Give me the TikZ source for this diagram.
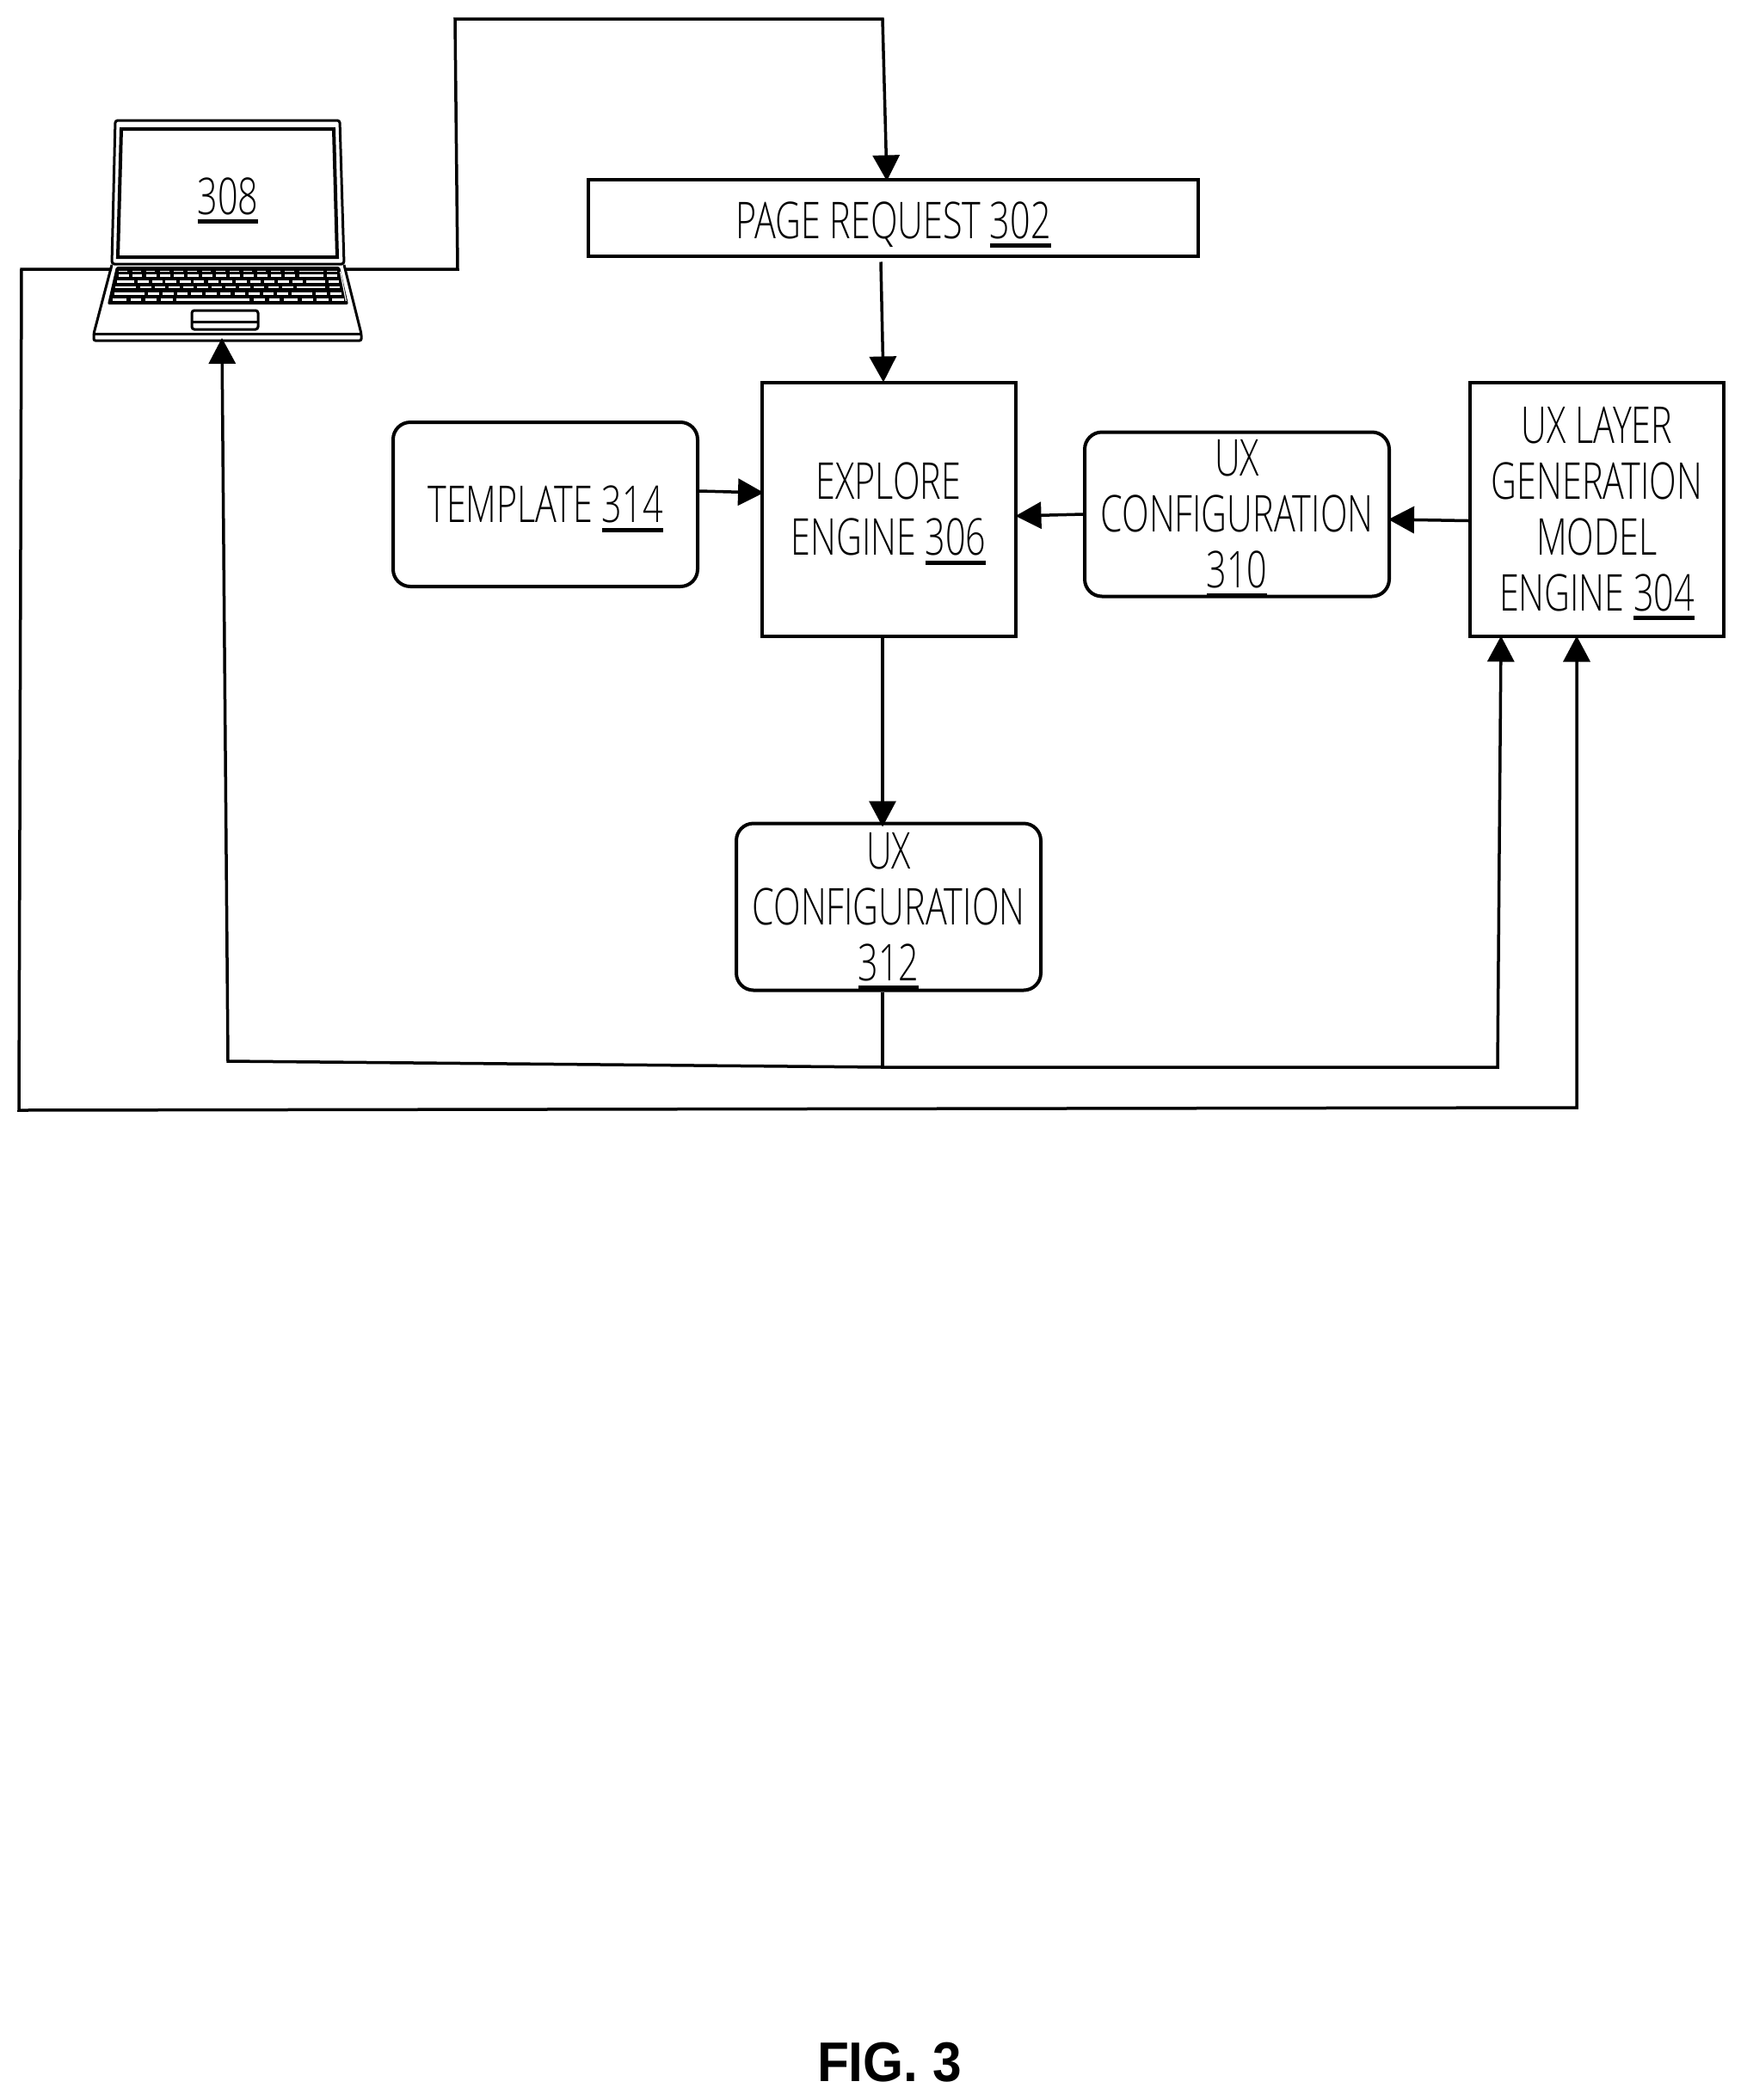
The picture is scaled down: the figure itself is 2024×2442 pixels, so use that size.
\documentclass[tikz,border=0pt]{standalone}
\usepackage{fontspec}
\setmainfont[FakeStretch=0.70]{Open Sans Light}
\newfontfamily\figfont[FakeStretch=0.93]{Liberation Sans}
\usetikzlibrary{arrows.meta}

\newcommand{\partnum}[1]{\setbox0\hbox{#1}\rlap{\smash{\rule[-11pt]{\wd0}{5pt}}}\box0}

\tikzset{
  flatbox/.style={draw, line width=4pt, align=center, inner sep=0pt, font=\fontsize{59}{65}\selectfont},
  roundbox/.style={flatbox, rounded corners=20pt},
  link/.style={draw, line width=3.5pt, -{Triangle[length=30pt,width=31pt]}},
  wire/.style={draw, line width=3.5pt},
}

\begin{document}
\begin{tikzpicture}[x=1pt, y=-1pt]
  \useasboundingbox (0,0) rectangle (2024,2442);

  % Engine and configuration nodes
  \node[flatbox, minimum width=295pt, minimum height=295pt] at (1033,592) (explore) {EXPLORE\\ENGINE \partnum{306}};
  \node[flatbox, minimum width=709pt, minimum height=89pt, text height=48pt, text depth=0pt, above of=explore, node distance=339pt, xshift=5.5pt] (page) {PAGE REQUEST \partnum{302}};
  \node[roundbox, minimum width=354pt, minimum height=191pt, left of=explore, node distance=399pt, yshift=5.5pt] (template) {TEMPLATE \partnum{314}};
  \node[roundbox, minimum width=354pt, minimum height=191pt, right of=explore, node distance=405pt, yshift=-6pt] (uxa) {UX\\CONFIGURATION\\\partnum{310}};
  \node[flatbox, minimum width=295pt, minimum height=295pt, right of=uxa, node distance=418.5pt, yshift=6pt] (layer) {UX LAYER\\GENERATION\\MODEL\\ENGINE \partnum{304}};
  \node[roundbox, minimum width=354pt, minimum height=194pt, below of=explore, node distance=462.5pt] (uxb) {UX\\CONFIGURATION\\\partnum{312}};
  % Figure caption
  \node[font=\figfont\bfseries\fontsize{65}{65}\selectfont] at (1034,2398) (caption) {FIG. 3};

  % Laptop lid and screen
  \path[draw, line width=3pt, rounded corners=3pt] (130,307) -- (134,140) -- (395,140) -- (400,307) -- cycle;
  \path[draw, line width=4pt] (141,150) -- (388,150) -- (392,299) -- (137,299) -- cycle;
  \node[font=\fontsize{59}{65}\selectfont] at (265,228) (laptop) {\partnum{308}};
  % Laptop base
  \path[draw, line width=3pt, rounded corners=2pt] (130,308) -- (109,388) -- (109,396) -- (420,396) -- (420,388) -- (400,308);
  \path[draw, line width=3pt] (109,388) -- (420,388);
  % Keyboard
  \path[fill, rounded corners=2pt] (135,310) -- (395,310) -- (405,354) -- (125,354) -- cycle;
  \begin{scope}[shift={(105,300)}, x=.3333pt, y=-.3333pt]
    \foreach \a/\b in {100/130,147/178,195/225,243/275,292/325,340/372,390/420,437/470,487/518,533/565,582/613,630/662,677/710,728/812,825/862}
      \fill[white] (\a,46) rectangle (\b,49);
    \foreach \rowy/\rowkeys in {
      62/{98/135,147/180,195/232,243/280,292/328,340/378,390/427,437/475,487/523,533/570,582/618,630/667,677/715,728/812,825/862},
      82/{92/153,165/203,215/252,262/300,312/350,360/397,410/447,457/495,507/545,557/595,605/643,655/693,705/742,753/820,832/868},
      102/{88/158,175/212,224/262,273/312,323/360,372/410,422/460,472/508,520/558,570/607,620/657,670/708,720/820,833/870},
      124/{84/190,200/240,252/290,302/340,352/390,402/440,452/490,503/540,552/590,602/640,652/690,703/775,787/825,837/875},
      146/{78/125,140/178,192/232,246/287,300/555,570/610,623/660,675/723,738/778,790/830,842/885}}
      \foreach \a/\b in \rowkeys
        \fill[white] (\a,\rowy-4) rectangle (\b,\rowy+4);
    \path[draw=white, line width=1.2pt] (872,48) -- (892,150);
  \end{scope}
  % Touchpad
  \path[draw, line width=3pt, rounded corners=3pt] (223,361) rectangle (300,383);
  \path[draw, line width=3pt] (223,374) -- (300,374);

  % Bends of the long wires
  \coordinate (lidr) at (400,313);
  \coordinate (lidl) at (130,313);
  \coordinate (padb) at (258,393);
  \coordinate (topa) at (532,313);
  \coordinate (topb) at (529,22);
  \coordinate (topc) at (1026,22);
  \coordinate (lowa) at (25,313);
  \coordinate (lowb) at (22,1291);
  \coordinate (lowc) at (1833,1288);
  \coordinate (busl) at (265,1234);
  \coordinate (busm) at (1026,1241);
  \coordinate (busr) at (1741,1241);

  % Connections around the engine
  \path[link] (lidr) -- (topa) -- (topb) -- (topc) -- ([xshift=-7.5pt,yshift=-4pt]page.north);
  \path[link] ([xshift=-14.5pt,yshift=-5pt]page.south) to ([xshift=-6pt,yshift=-2pt]explore.north);
  \path[link] ([yshift=15.5pt]template.east) to ([xshift=4.5pt,yshift=19pt]explore.west);
  \path[link] (uxa.west) to ([xshift=-2pt,yshift=-8pt]explore.east);
  \path[link] ([yshift=-13.5pt]layer.west) to ([xshift=-3pt,yshift=-6pt]uxa.east);
  \path[link] ([xshift=-7pt]explore.south) to ([yshift=-6pt,xshift=-7pt]uxb.north);

  % Connections out of the lower configuration
  \path[wire] ([xshift=-7pt]uxb.south) to (busm);
  \path[link] (busm) -- (busl) -- (padb);
  \path[link] (busm) -- (busr) -- ([xshift=-111.5pt,yshift=2pt]layer.south);
  \path[link] (lidl) -- (lowa) -- (lowb) -- (lowc) -- ([xshift=-23.5pt,yshift=2pt]layer.south);
\end{tikzpicture}
\end{document}
